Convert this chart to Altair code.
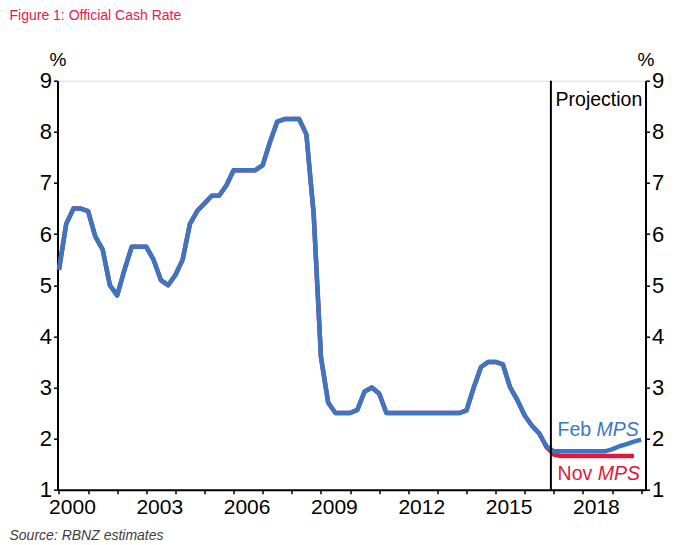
import altair as alt
import pandas as pd

# ---- data (quarterly, starting 2000 Q1) ----
feb_mps = [
    5.30, 6.20, 6.50, 6.50,   # 2000
    6.45, 5.95, 5.70, 5.00,   # 2001
    4.80, 5.30, 5.75, 5.75,   # 2002
    5.75, 5.50, 5.10, 5.00,   # 2003
    5.20, 5.50, 6.20, 6.45,   # 2004
    6.60, 6.75, 6.75, 6.95,   # 2005
    7.25, 7.25, 7.25, 7.25,   # 2006
    7.35, 7.80, 8.20, 8.25,   # 2007
    8.25, 8.25, 7.95, 6.40,   # 2008
    3.60, 2.70, 2.50, 2.50,   # 2009
    2.50, 2.56, 2.92, 3.00,   # 2010
    2.88, 2.50, 2.50, 2.50,   # 2011
    2.50, 2.50, 2.50, 2.50,   # 2012
    2.50, 2.50, 2.50, 2.50,   # 2013
    2.55, 3.00, 3.40, 3.50,   # 2014
    3.50, 3.45, 3.00, 2.75,   # 2015
    2.45, 2.25, 2.10, 1.85,   # 2016
    1.75, 1.75, 1.75, 1.75,   # 2017
    1.75, 1.75, 1.75, 1.75,   # 2018
    1.79, 1.85, 1.89, 1.94,   # 2019
    1.98,                     # 2020
]
nov_mps = [
    5.30, 6.20, 6.50, 6.50,
    6.45, 5.95, 5.70, 5.00,
    4.80, 5.30, 5.75, 5.75,
    5.75, 5.50, 5.10, 5.00,
    5.20, 5.50, 6.20, 6.45,
    6.60, 6.75, 6.75, 6.95,
    7.25, 7.25, 7.25, 7.25,
    7.35, 7.80, 8.20, 8.25,
    8.25, 8.25, 7.95, 6.40,
    3.60, 2.70, 2.50, 2.50,
    2.50, 2.56, 2.92, 3.00,
    2.88, 2.50, 2.50, 2.50,
    2.50, 2.50, 2.50, 2.50,
    2.50, 2.50, 2.50, 2.50,
    2.55, 3.00, 3.40, 3.50,
    3.50, 3.45, 3.00, 2.75,
    2.45, 2.25, 2.10, 1.83,
    1.69, 1.66, 1.66, 1.66,
    1.66, 1.66, 1.66, 1.66,
    1.66, 1.66, 1.66, 1.66,
]
first_year = 2000
x_tick_years = list(range(2000, 2021))
y_ticks = [1, 2, 3, 4, 5, 6, 7, 8, 9]
projection_start = 2016.9

title_text = "Figure 1: Official Cash Rate"
source_text = "Source: RBNZ estimates"

BLUE = "#3b76c2"
RED = "#e0173a"
TITLE_RED = "#e8194b"
FONT = "Arial, Liberation Sans"

feb_df = pd.DataFrame({"t": [first_year + i / 4 for i in range(len(feb_mps))], "v": feb_mps})
nov_df = pd.DataFrame({"t": [first_year + i / 4 for i in range(len(nov_mps))], "v": nov_mps})

xscale = alt.Scale(domain=[1999.95, 2020.15], nice=False, zero=False)
yscale = alt.Scale(domain=[1, 9], nice=False, zero=False)

xaxis = alt.Axis(
    values=x_tick_years,
    labelExpr="(datum.value - 2000) % 3 == 0 && datum.value < 2020 ? '' + datum.value : ''",
    labelOffset=13, labelFontSize=21, labelFont=FONT, labelColor="black",
    labelPadding=3, labelFlush=False, labelOverlap=False, labelBound=False,
    tickSize=4, tickWidth=1.5, tickColor="black",
    domainColor="black", domainWidth=2, grid=False, title=None,
)

def yaxis(orient):
    return alt.Axis(
        orient=orient, values=y_ticks, labelFontSize=22, labelFont=FONT, labelColor="black",
        labelPadding=2, tickSize=4, tickWidth=1.5, tickColor="black",
        domainColor="black", domainWidth=2, grid=False,
        title="%", titleAngle=0, titleFontSize=19, titleFont=FONT, titleFontWeight="normal",
        titleColor="black", titleX=0, titleY=-21, titleAlign="center", titleBaseline="middle",
    )

X = alt.X("t:Q", scale=xscale, axis=xaxis)

red = alt.Chart(nov_df).mark_line(color=RED, strokeWidth=4.5, strokeJoin="round").encode(
    x=X,
    y=alt.Y("v:Q", scale=yscale, axis=yaxis("left")),
)
blue = alt.Chart(feb_df).mark_line(color=BLUE, strokeWidth=4.5, strokeJoin="round").encode(
    x=X,
    y=alt.Y("v:Q", scale=yscale, axis=yaxis("right")),
)

rule_df = pd.DataFrame({"t": [projection_start], "y1": [9], "y2": [1]})
rule = alt.Chart(rule_df).mark_rule(color="black", strokeWidth=2).encode(
    x=X,
    y=alt.Y("y1:Q", scale=yscale, axis=None),
    y2="y2:Q",
)

ann_df = pd.DataFrame({
    "t": [2017.06, 2017.13, 2018.47, 2017.13, 2018.51],
    "v": [8.62, 2.16, 2.16, 1.30, 1.30],
    "label": ["Projection", "Feb", "MPS", "Nov", "MPS"],
    "color": ["black", BLUE, BLUE, RED, RED],
    "style": ["normal", "normal", "italic", "normal", "italic"],
})

def ann(i):
    row = ann_df.iloc[[i]]
    return alt.Chart(row).mark_text(
        align="left", baseline="middle", fontSize=19.5, font=FONT,
        color=row["color"].iloc[0], fontStyle=row["style"].iloc[0],
    ).encode(
        x=X,
        y=alt.Y("v:Q", scale=yscale, axis=None),
        text="label:N",
    )

title_mark = alt.Chart(pd.DataFrame({"label": [title_text]})).mark_text(
    align="left", baseline="middle", fontSize=14, font=FONT, color=TITLE_RED,
).encode(x=alt.value(-48), y=alt.value(-65), text="label:N")

source_mark = alt.Chart(pd.DataFrame({"label": [source_text]})).mark_text(
    align="left", baseline="middle", fontSize=14, font=FONT, color="#404040", fontStyle="italic",
).encode(x=alt.value(-48), y=alt.value(455), text="label:N")

chart = alt.layer(
    red, blue, rule, ann(0), ann(1), ann(2), ann(3), ann(4), title_mark, source_mark
).resolve_axis(y="independent").properties(
    width=588, height=409,
    autosize=alt.AutoSizeParams(type="none"),
    padding={"left": 49.5, "top": 72.7, "right": 29.5, "bottom": 54.3},
).configure_view(strokeWidth=0).configure(background="white")

chart.save("out.html", embed_options={"renderer": "svg", "actions": False})
